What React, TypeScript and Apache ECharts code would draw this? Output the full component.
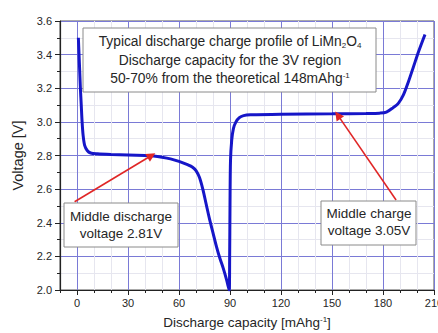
import React, { useEffect, useRef } from "react";
import * as echarts from "echarts";

// Discharge then charge profile (capacity mAh/g, voltage V)
const capacity: number[] = [
  0.8, 1.2, 1.6, 2.0, 2.5, 3.0, 3.6, 4.5, 6, 8, 12, 20, 30, 40, 45, 50, 55, 60, 65, 68, 70, 72, 74, 76, 78, 80, 82, 84, 86, 88, 89.5,
  89.8, 90.0, 90.3, 91, 92, 93.5, 95.5, 98, 102, 120, 150, 170, 178, 182, 186, 189, 192, 195, 198, 201, 204.7,
];
const voltage: number[] = [
  3.5, 3.4, 3.3, 3.2, 3.1, 3.0, 2.92, 2.86, 2.83, 2.815, 2.81, 2.806, 2.803, 2.8, 2.797, 2.79, 2.78, 2.765, 2.745, 2.73, 2.71, 2.67, 2.6, 2.51, 2.42, 2.34, 2.26, 2.19, 2.13, 2.06, 2.0,
  2.2, 2.5, 2.77, 2.89, 2.96, 3.0, 3.025, 3.037, 3.042, 3.046, 3.048, 3.05, 3.052, 3.058, 3.085, 3.11, 3.16, 3.24, 3.33, 3.42, 3.52,
];

const xTickLabels: number[] = [0, 30, 60, 90, 120, 150, 180, 210];
const yTickLabels: number[] = [2.0, 2.2, 2.4, 2.6, 2.8, 3.0, 3.2, 3.4, 3.6];

// Arrows: [tailX, tailY, tipX, tipY]
const dischargeArrow: number[] = [-1.4, 2.525, 43.8, 2.8];
const chargeArrow: number[] = [187.7, 2.535, 153.4, 3.04];

const titleLines: string[] = [
  "Typical discharge charge profile of LiMn{sub|2}O{sub|4}",
  "Discharge capacity for the 3V region",
  "50-70% from the theoretical 148mAhg{sup|-1}",
];
const dischargeLabel: string[] = ["Middle discharge", "voltage 2.81V"];
const chargeLabel: string[] = ["Middle charge", "voltage 3.05V"];

const FONT = "'Liberation Sans', Arial, sans-serif";
const MAJOR = "#7a7ad6";
const MINOR = "#e6e6ef";
const TEXT = "#262626";

export default function App() {
  const ref = useRef<HTMLDivElement>(null);
  useEffect(() => {
    if (!ref.current) return;
    const chart = echarts.init(ref.current, undefined, { renderer: "svg" });
    const data = capacity.map((c, i) => [c, voltage[i]]);
    const richSS = {
      sub: { fontSize: 8, fontFamily: FONT, color: TEXT, padding: [7, 0, 0, 0] },
      sup: { fontSize: 8, fontFamily: FONT, color: TEXT, padding: [0, 0, 7, 0] },
    };
    chart.setOption({
      animation: false,
      backgroundColor: "#ffffff",
      grid: {
        left: 60,
        top: 21,
        right: 4,
        bottom: 43,
        show: true,
        borderColor: "#555",
        borderWidth: 1,
        backgroundColor: "transparent",
        containLabel: false,
        outerBoundsMode: "none",
      },
      xAxis: [
        {
          type: "value",
          min: -10,
          max: 210,
          interval: 10,
          position: "bottom",
          axisLine: { show: true, onZero: false, lineStyle: { color: "#222", width: 1.2 } },
          axisTick: { show: true, inside: false, length: 3, lineStyle: { color: "#222" } },
          axisLabel: {
            show: true,
            margin: 7,
            color: TEXT,
            fontSize: 11,
            fontFamily: FONT,
            hideOverlap: false,
            formatter: (v: number) => (xTickLabels.includes(v) ? String(v) : ""),
          },
          splitLine: { show: true, lineStyle: { color: [MINOR, MAJOR, MINOR], width: 1 } },
          name: "Discharge capacity [mAhg{sup|-1}]",
          nameLocation: "middle",
          nameGap: 25,
          nameTextStyle: { fontSize: 13.5, color: TEXT, fontFamily: FONT, rich: richSS },
        },
        {
          type: "value",
          min: -10,
          max: 210,
          interval: 10,
          position: "bottom",
          axisLine: { show: false, onZero: false },
          axisTick: { show: true, inside: false, length: 5, customValues: xTickLabels, lineStyle: { color: "#222" } },
          axisLabel: { show: false },
          splitLine: { show: false },
        },
      ],
      yAxis: [
        {
          type: "value",
          min: 2.0,
          max: 3.6,
          interval: 0.1,
          position: "left",
          axisLine: { show: true, onZero: false, lineStyle: { color: "#222", width: 1.2 } },
          axisTick: { show: true, inside: false, length: 3, lineStyle: { color: "#222" } },
          axisLabel: {
            show: true,
            margin: 8,
            color: TEXT,
            fontSize: 11,
            fontFamily: FONT,
            formatter: (v: number) => (Math.round(v * 10) % 2 === 0 ? v.toFixed(1) : ""),
          },
          splitLine: { show: true, lineStyle: { color: [MAJOR, MINOR], width: 1 } },
          name: "Voltage [V]",
          nameLocation: "middle",
          nameRotate: 90,
          nameGap: 30,
          nameTextStyle: { fontSize: 14.5, color: TEXT, fontFamily: FONT },
        },
        {
          type: "value",
          min: 2.0,
          max: 3.6,
          interval: 0.1,
          position: "left",
          axisLine: { show: false, onZero: false },
          axisTick: { show: true, inside: false, length: 5, customValues: yTickLabels, lineStyle: { color: "#222" } },
          axisLabel: { show: false },
          splitLine: { show: false },
        },
      ],
      series: [
        {
          type: "line",
          xAxisIndex: 0,
          yAxisIndex: 0,
          data,
          showSymbol: false,
          symbol: "none",
          smooth: 0.3,
          lineStyle: { color: "#1616c8", width: 3 },
          markLine: {
            silent: true,
            symbol: ["none", "triangle"],
            symbolSize: 9,
            label: { show: false },
            lineStyle: { color: "#e02626", width: 1.6, type: "solid" },
            itemStyle: { color: "#e02626" },
            emphasis: { disabled: true },
            data: [
              [{ coord: [dischargeArrow[0], dischargeArrow[1]] }, { coord: [dischargeArrow[2], dischargeArrow[3]] }],
              [{ coord: [chargeArrow[0], chargeArrow[1]] }, { coord: [chargeArrow[2], chargeArrow[3]] }],
            ],
          },
        },
      ],
      graphic: [
        {
          type: "rect",
          shape: { x: 83, y: 28, width: 293, height: 64 },
          style: { fill: "#fff", stroke: "#8a8a8a", lineWidth: 1 },
          z: 100,
        },
        {
          type: "text",
          x: 230,
          y: 60,
          z: 101,
          style: {
            text: titleLines.join("\n"),
            font: `13.8px ${FONT}`,
            fill: TEXT,
            align: "center",
            verticalAlign: "middle",
            lineHeight: 18.5,
            rich: {
              sub: { fontSize: 8, fontFamily: FONT, fill: TEXT, padding: [7, 0, 0, 0], lineHeight: 18.5 },
              sup: { fontSize: 8, fontFamily: FONT, fill: TEXT, padding: [0, 0, 7, 0], lineHeight: 18.5 },
            },
          },
        },
        {
          type: "rect",
          shape: { x: 64, y: 203, width: 114, height: 44 },
          style: { fill: "#fff", stroke: "#8a8a8a", lineWidth: 1 },
          z: 100,
        },
        {
          type: "text",
          x: 121,
          y: 224.5,
          z: 101,
          style: {
            text: dischargeLabel.join("\n"),
            font: `13.5px ${FONT}`,
            fill: TEXT,
            align: "center",
            verticalAlign: "middle",
            lineHeight: 17,
          },
        },
        {
          type: "rect",
          shape: { x: 321, y: 201, width: 95, height: 44 },
          style: { fill: "#fff", stroke: "#8a8a8a", lineWidth: 1 },
          z: 100,
        },
        {
          type: "text",
          x: 369,
          y: 222,
          z: 101,
          style: {
            text: chargeLabel.join("\n"),
            font: `13.5px ${FONT}`,
            fill: TEXT,
            align: "center",
            verticalAlign: "middle",
            lineHeight: 17,
          },
        },
      ],
    });
    return () => chart.dispose();
  }, []);
  return <div ref={ref} style={{ width: 438, height: 333, position: "absolute", left: 0, top: 0 }} />;
}
